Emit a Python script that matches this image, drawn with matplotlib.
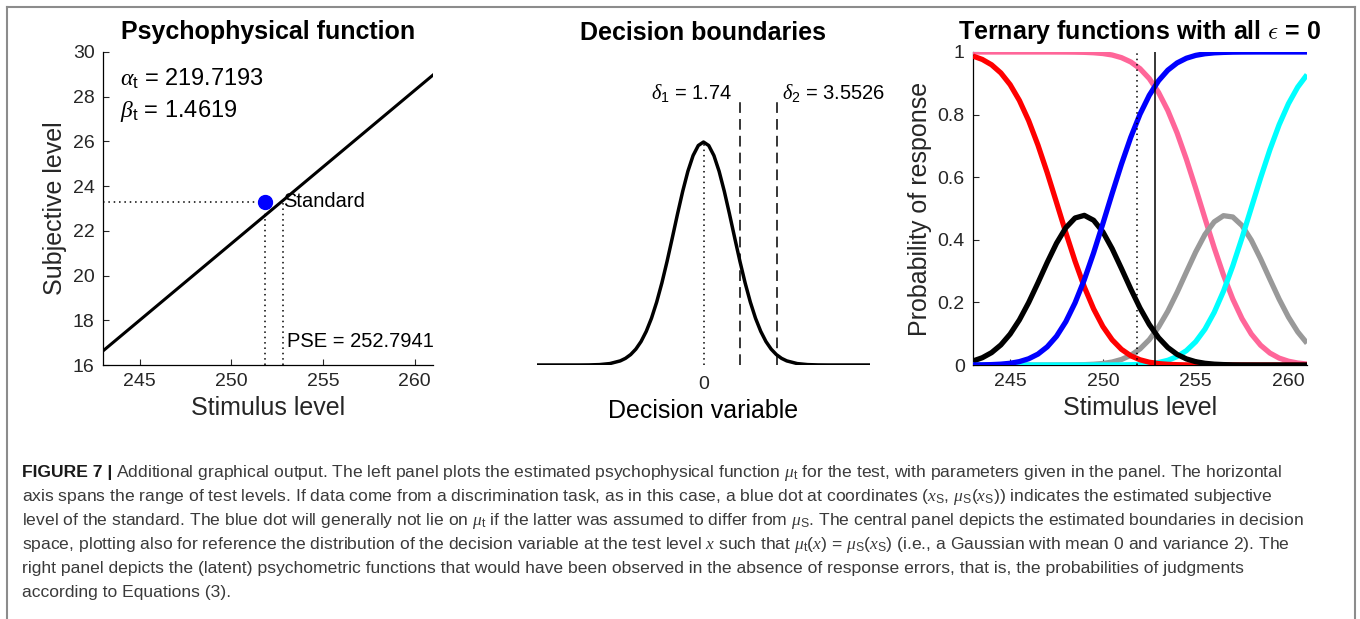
import numpy as np
import matplotlib.pyplot as plt
from matplotlib.lines import Line2D

# ---- left panel: psychophysical function ----
stim_ends = [243, 261]
subj_ends = [16.63, 28.97]
alpha_t = 219.7193
beta_t = 1.4619
x_std = 251.82
subj_std = 23.3
pse = 252.7941

# ---- middle panel: decision variable density ----
delta1 = 1.74
delta2 = 3.5526
dv_x = [-8, -6, -5.5, -5, -4.5, -4, -3.75, -3.5, -3.25, -3, -2.75, -2.5, -2.25, -2, -1.75, -1.5,
        -1.25, -1, -0.75, -0.5, -0.25, 0, 0.25, 0.5, 0.75, 1, 1.25, 1.5, 1.75, 2, 2.25, 2.5, 2.75,
        3, 3.25, 3.5, 3.75, 4, 4.5, 5, 5.5, 6, 8]
dv_density = [0.0, 0.0, 0.0001, 0.0005, 0.0018, 0.0052, 0.0084, 0.0132, 0.0201, 0.0297, 0.0426,
              0.0591, 0.0796, 0.1038, 0.1312, 0.1607, 0.1909, 0.2197, 0.2451, 0.2650, 0.2777,
              0.2821, 0.2777, 0.2650, 0.2451, 0.2197, 0.1909, 0.1607, 0.1312, 0.1038, 0.0796,
              0.0591, 0.0426, 0.0297, 0.0201, 0.0132, 0.0084, 0.0052, 0.0018, 0.0005, 0.0001,
              0.0, 0.0]

# ---- right panel: ternary functions ----
levels = [243, 243.5, 244, 244.5, 245, 245.5, 246, 246.5, 247, 247.5, 248, 248.5, 249, 249.5,
          250, 250.5, 251, 251.5, 252, 252.5, 253, 253.5, 254, 254.5, 255, 255.5, 256, 256.5,
          257, 257.5, 258, 258.5, 259, 259.5, 260, 260.5, 261]
p_red = [0.9870, 0.9763, 0.9592, 0.9332, 0.8958, 0.8452, 0.7806, 0.7027, 0.6143, 0.5194, 0.4234,
         0.3317, 0.2492, 0.1793, 0.1229, 0.0804, 0.0501, 0.0296, 0.0167, 0.0089, 0.0045, 0.0022,
         0.0010, 0.0004, 0.0002, 0.0001, 0, 0, 0, 0, 0, 0, 0, 0, 0, 0, 0]
p_black = [0.0128, 0.0232, 0.0395, 0.0641, 0.0987, 0.1440, 0.1995, 0.2625, 0.3277, 0.3889, 0.4384,
           0.4697, 0.4781, 0.4624, 0.4253, 0.3715, 0.3083, 0.2432, 0.1820, 0.1294, 0.0873, 0.0558,
           0.0339, 0.0195, 0.0106, 0.0055, 0.0027, 0.0013, 0.0005, 0.0002, 0.0001, 0, 0, 0, 0, 0, 0]
p_blue = [0.0002, 0.0005, 0.0013, 0.0027, 0.0055, 0.0108, 0.0199, 0.0348, 0.0580, 0.0917, 0.1382,
          0.1986, 0.2727, 0.3583, 0.4518, 0.5481, 0.6416, 0.7272, 0.8013, 0.8617, 0.9082, 0.9420,
          0.9651, 0.9801, 0.9892, 0.9944, 0.9973, 0.9987, 0.9995, 0.9998, 0.9999, 1, 1, 1, 1, 1, 1]
p_pink = [1, 1, 1, 1, 1, 1, 1, 1, 1, 0.9999, 0.9998, 0.9995, 0.9989, 0.9976, 0.9951, 0.9904, 0.9820,
          0.9683, 0.9468, 0.9151, 0.8709, 0.8130, 0.7412, 0.6573, 0.5649, 0.4687, 0.3744, 0.2870,
          0.2107, 0.1478, 0.0989, 0.0631, 0.0382, 0.0220, 0.0121, 0.0063, 0.0031]
p_gray = [0, 0, 0, 0, 0, 0, 0, 0, 0, 0.0001, 0.0002, 0.0005, 0.0011, 0.0024, 0.0048, 0.0095, 0.0176,
          0.0308, 0.0513, 0.0809, 0.1212, 0.1720, 0.2319, 0.2969, 0.3609, 0.4169, 0.4574, 0.4771,
          0.4729, 0.4454, 0.3987, 0.3390, 0.2740, 0.2102, 0.1531, 0.1058, 0.0694]
p_cyan = [0, 0, 0, 0, 0, 0, 0, 0, 0, 0, 0, 0, 0, 0, 0.0001, 0.0001, 0.0004, 0.0009, 0.0019, 0.0040,
          0.0079, 0.0150, 0.0269, 0.0458, 0.0742, 0.1144, 0.1682, 0.2359, 0.3164, 0.4068, 0.5024,
          0.5979, 0.6878, 0.7678, 0.8348, 0.8879, 0.9275]

caption_lines = [
    r'Additional graphical output. The left panel plots the estimated psychophysical function $\mu_\mathrm{t}$ for the test, with parameters given in the panel. The horizontal',
    r'axis spans the range of test levels. If data come from a discrimination task, as in this case, a blue dot at coordinates ($x_\mathrm{S}$, $\mu_\mathrm{S}$($x_\mathrm{S}$)) indicates the estimated subjective',
    r'level of the standard. The blue dot will generally not lie on $\mu_\mathrm{t}$ if the latter was assumed to differ from $\mu_\mathrm{S}$. The central panel depicts the estimated boundaries in decision',
    r'space, plotting also for reference the distribution of the decision variable at the test level $x$ such that $\mu_\mathrm{t}$($x$) = $\mu_\mathrm{S}$($x_\mathrm{S}$) (i.e., a Gaussian with mean 0 and variance 2). The',
    r'right panel depicts the (latent) psychometric functions that would have been observed in the absence of response errors, that is, the probabilities of judgments',
    r'according to Equations (3).',
]

plt.rcParams.update({
    'font.family': ['Liberation Sans', 'DejaVu Sans'],
    'mathtext.fontset': 'custom',
    'mathtext.rm': 'Liberation Sans',
    'mathtext.it': 'Liberation Serif:italic',
    'mathtext.bf': 'Liberation Sans:bold',
    'mathtext.sf': 'Liberation Sans',
    'xtick.direction': 'in',
    'ytick.direction': 'in',
    'xtick.color': '#262626',
    'ytick.color': '#262626',
    'xtick.labelsize': 14,
    'ytick.labelsize': 14,
    'axes.labelcolor': '#262626',
    'axes.labelsize': 18,
    'axes.linewidth': 0.9,
})

W, H = 1360, 619
fig = plt.figure(figsize=(W / 100, H / 100), dpi=100)

def box(x0, y0, x1, y1):
    # pixel box (top-left origin) -> figure fraction
    return [x0 / W, 1 - y1 / H, (x1 - x0) / W, (y1 - y0) / H]

DOT = (0, (1, 2.5))
TITLE = dict(fontsize=18, fontweight='bold', pad=9)

# left panel
ax1 = fig.add_axes(box(103, 52, 433, 365))
ax1.plot(stim_ends, subj_ends, color='k', lw=2.2, zorder=3)
ax1.plot([243, x_std], [subj_std, subj_std], ls=DOT, color='k', lw=1.1)
ax1.plot([x_std, x_std], [16, subj_std], ls=DOT, color='k', lw=1.1)
ax1.plot([pse, pse], [16, subj_std], ls=DOT, color='k', lw=1.1)
ax1.plot([x_std], [subj_std], 'o', color='#0000ff', ms=10, zorder=4)
ax1.text(pse + 0.05, subj_std, 'Standard', va='center', ha='left', fontsize=14.5, color='k')
ax1.text(pse + 0.25, 17.05, f'PSE = {pse}', va='center', ha='left', fontsize=14.5, color='k')
ax1.text(243.9, 28.8, r'$\alpha_\mathrm{t}$' + f' = {alpha_t}', va='center', fontsize=17, color='k')
ax1.text(243.9, 27.35, r'$\beta_\mathrm{t}$' + f' = {beta_t}', va='center', fontsize=17, color='k')
ax1.set_xlim(243, 261)
ax1.set_ylim(16, 30)
ax1.set_xticks([245, 250, 255, 260])
ax1.set_yticks(np.arange(16, 31, 2))
ax1.spines[['top', 'right']].set_visible(False)
ax1.tick_params(length=4, pad=6)
ax1.set_xlabel('Stimulus level', labelpad=4)
ax1.set_ylabel('Subjective level', labelpad=4)
ax1.set_title('Psychophysical function', **TITLE)

# middle panel
ax2 = fig.add_axes(box(537, 52, 870, 365))
ax2.plot(dv_x, dv_density, color='k', lw=2.5, solid_joinstyle='round')
ax2.vlines([delta1, delta2], 0, 0.335, colors='k', linestyles=(0, (7, 4)), lw=1.1)
ax2.plot([0, 0], [0, max(dv_density)], ls=DOT, color='k', lw=1.1)
ax2.text(delta1 - 0.35, 0.344, r'$\delta_1$ = ' + f'{delta1}', ha='right', va='center',
         fontsize=14.5, color='k')
ax2.text(delta2 + 0.2, 0.344, r'$\delta_2$ = ' + f'{delta2}', ha='left', va='center',
         fontsize=14.5, color='k')
ax2.set_xlim(-8, 8)
ax2.set_ylim(0, 0.396)
ax2.set_xticks([0])
ax2.set_yticks([])
ax2.tick_params(length=0, pad=8)
for s in ax2.spines.values():
    s.set_visible(False)
ax2.set_xlabel('Decision variable', labelpad=4, color='k')
ax2.set_title('Decision boundaries', **TITLE)

# right panel
ax3 = fig.add_axes(box(973, 52, 1307, 365))
curves = [(p_pink, '#ff6699'), (p_gray, '#999999'), (p_cyan, '#00ffff'),
          (p_red, '#ff0000'), (p_black, '#000000'), (p_blue, '#0000ff')]
for vals, col in curves:
    ax3.plot(levels, vals, color=col, lw=3.8, zorder=3, solid_capstyle='butt',
             solid_joinstyle='round')
ax3.plot([x_std, x_std], [0, 1], ls=DOT, color='k', lw=1.1, zorder=4)
ax3.plot([pse, pse], [0, 1], color='k', lw=1.1, zorder=4)
ax3.set_xlim(243, 261)
ax3.set_ylim(0, 1)
ax3.set_xticks([245, 250, 255, 260])
ax3.set_yticks([0, 0.2, 0.4, 0.6, 0.8, 1])
ax3.set_yticklabels(['0', '0.2', '0.4', '0.6', '0.8', '1'])
ax3.spines[['top', 'right']].set_visible(False)
ax3.tick_params(length=4, pad=6)
ax3.set_xlabel('Stimulus level', labelpad=4)
ax3.set_ylabel('Probability of response', labelpad=4)
ax3.set_title(r'Ternary functions with all $\epsilon$ = 0', math_fontfamily='cm', **TITLE)

# outer frame
frame = dict(color='#8c8c8c', lw=1.5, transform=fig.transFigure)
fig.add_artist(Line2D([7 / W, 7 / W], [0, 1 - 7 / H], **frame))
fig.add_artist(Line2D([7 / W, 1355 / W], [1 - 7 / H, 1 - 7 / H], **frame))
fig.add_artist(Line2D([1355 / W, 1355 / W], [0, 1 - 7 / H], **frame))

# caption
CAP = '#3a3a3a'
CAP_FS = 12.6
y0 = 473
bold = fig.text(22 / W, 1 - y0 / H, 'FIGURE 7 |', fontsize=CAP_FS, fontweight='bold',
                color='#1a1a1a', va='center')
r = fig.canvas.get_renderer()
bw = bold.get_window_extent(r).width
fig.text((22 + bw + 4) / W, 1 - y0 / H, caption_lines[0], fontsize=CAP_FS, color=CAP, va='center')
for i, line in enumerate(caption_lines[1:], start=1):
    fig.text(22 / W, 1 - (y0 + 24 * i) / H, line, fontsize=CAP_FS, color=CAP, va='center')

fig.savefig('out.png', dpi=100)
